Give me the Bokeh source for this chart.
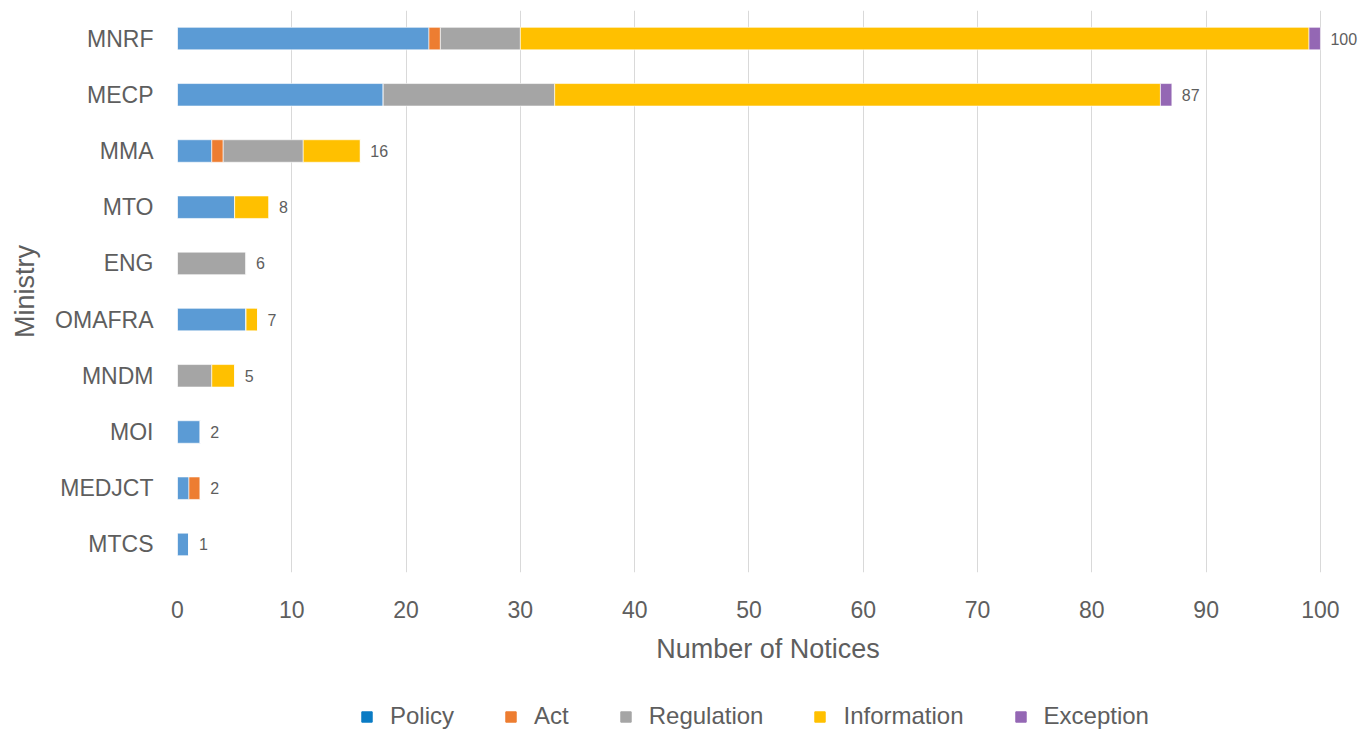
from bokeh.plotting import figure
from bokeh.layouts import column
from bokeh.models import ColumnDataSource, FactorRange, Range1d, FixedTicker, Legend, LegendItem
from bokeh.embed import file_html
from bokeh.resources import INLINE
from bokeh.core.properties import value

ministries = ["MNRF", "MECP", "MMA", "MTO", "ENG", "OMAFRA", "MNDM", "MOI", "MEDJCT", "MTCS"]
policy = [22, 18, 3, 5, 0, 6, 0, 2, 1, 1]
act = [1, 0, 1, 0, 0, 0, 0, 0, 1, 0]
regulation = [7, 15, 7, 0, 6, 0, 3, 0, 0, 0]
information = [69, 53, 5, 3, 0, 1, 2, 0, 0, 0]
exception = [1, 1, 0, 0, 0, 0, 0, 0, 0, 0]

series_names = ["Policy", "Act", "Regulation", "Information", "Exception"]
bar_colors = ["#5B9BD5", "#ED7D31", "#A5A5A5", "#FFC000", "#9467B4"]
legend_colors = ["#0A7BC4", "#ED7D31", "#A5A5A5", "#FFC000", "#9467B4"]
x_ticks = [0, 10, 20, 30, 40, 50, 60, 70, 80, 90, 100]

FONT = "Liberation Sans"
TXT = "#5E5E5E"

totals = [a + b + c + d + e for a, b, c, d, e in zip(policy, act, regulation, information, exception)]
src = ColumnDataSource(dict(ministry=ministries, Policy=policy, Act=act, Regulation=regulation,
                            Information=information, Exception=exception, total=totals,
                            label=[str(t) for t in totals]))

W = 1358
p = figure(width=W, height=700,
           y_range=FactorRange(factors=ministries[::-1]),
           x_range=Range1d(0, 103.33),
           output_backend="svg", toolbar_location=None,
           min_border_left=177, min_border_right=0, min_border_top=10, min_border_bottom=128)
p.outline_line_color = None
p.background_fill_color = "white"
p.border_fill_color = "white"

p.hbar_stack(series_names, y="ministry", height=0.4, source=src, color=bar_colors,
             line_color="white", line_width=0.6)

p.text(x="total", y="ministry", text="label", source=src, x_offset=10,
       text_baseline="middle", text_align="left", text_font=value(FONT),
       text_font_size="16px", text_color=TXT)

p.xaxis.ticker = FixedTicker(ticks=x_ticks)
p.xaxis.axis_label = "Number of Notices"
p.yaxis.axis_label = "Ministry"
for ax in (p.xaxis[0], p.yaxis[0]):
    ax.axis_line_color = None
    ax.major_tick_line_color = None
    ax.minor_tick_line_color = None
    ax.major_label_text_font = FONT
    ax.major_label_text_color = TXT
    ax.axis_label_text_font = FONT
    ax.axis_label_text_color = TXT
    ax.axis_label_text_font_style = "normal"
    ax.axis_label_text_font_size = "27px"
p.xaxis.major_label_text_font_size = "23px"
p.yaxis.major_label_text_font_size = "23px"
p.xaxis.major_label_standoff = 22
p.xaxis.axis_label_standoff = 13
p.yaxis.major_label_standoff = 18
p.yaxis.axis_label_standoff = 12

p.xgrid.grid_line_color = "#D9D9D9"
p.xgrid.grid_line_width = 1
p.ygrid.grid_line_color = None

# legend strip below the chart
lf = figure(width=W, height=30, x_range=Range1d(0, 1), y_range=Range1d(0, 1),
            x_axis_type=None, y_axis_type=None, output_backend="svg", toolbar_location=None,
            min_border_left=0, min_border_right=0, min_border_top=0, min_border_bottom=0)
lf.outline_line_color = None
lf.xgrid.visible = False
lf.ygrid.visible = False
items = []
for name, col in zip(series_names, legend_colors):
    r = lf.hbar(y=[-10], left=[0], right=[1], height=0.5, color=col)
    items.append(LegendItem(label=name, renderers=[r]))
legend = Legend(items=items, orientation="horizontal", location=(183, 0),
                glyph_width=13, glyph_height=13, label_standoff=17, spacing=50,
                label_text_font=FONT, label_text_font_size="24px", label_text_color=TXT,
                border_line_color=None, background_fill_alpha=0, padding=0, margin=0)
lf.add_layout(legend)

open("out.html", "w").write(file_html(column(p, lf, spacing=0), INLINE))
